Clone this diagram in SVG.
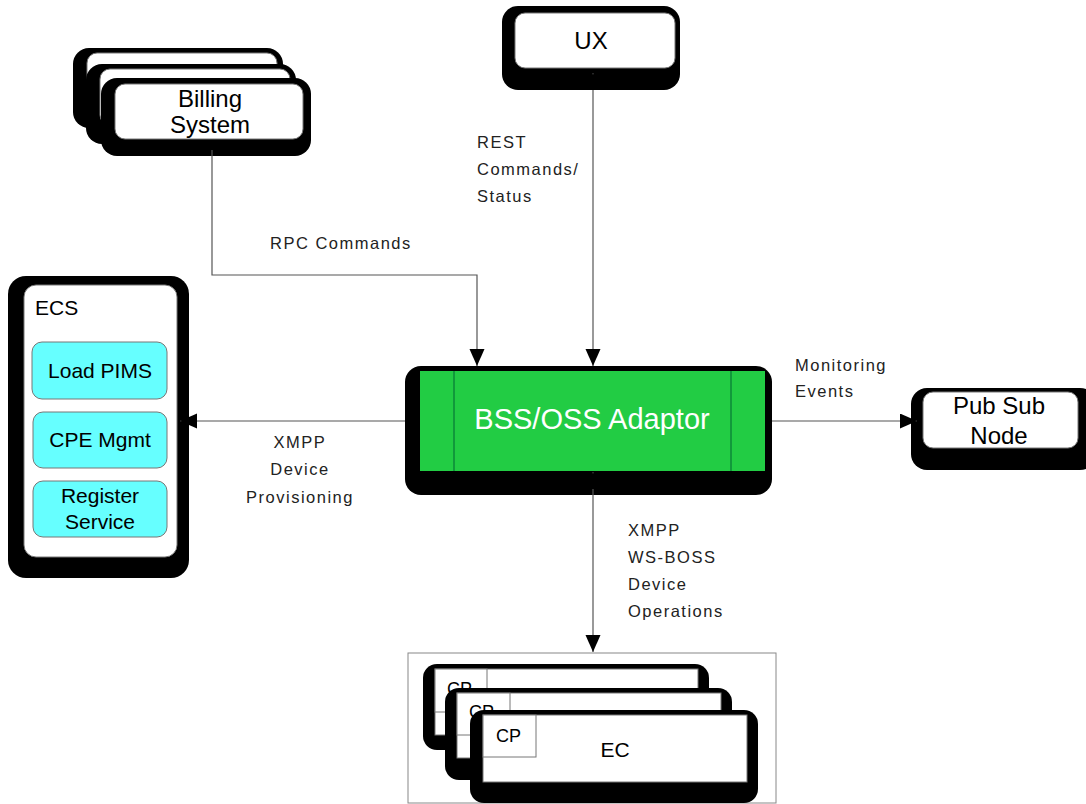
<svg xmlns="http://www.w3.org/2000/svg" width="1086" height="804" viewBox="0 0 1086 804">
<style>
  text { font-family: "Liberation Sans", Arial, sans-serif; fill: #000; }
  .sh { fill: #000; }
  .box { fill: #fff; stroke: #777; stroke-width: 1; }
  .cyan { fill: #66ffff; stroke: #777; stroke-width: 1; }
  .lbl { font-size: 16.5px; fill: #222; letter-spacing: 1.5px; }
  .big { font-size: 24px; text-anchor: middle; }
  .mid { font-size: 21px; text-anchor: middle; }
  .conn { fill: none; stroke: #555; stroke-width: 1.2; }
</style>
<defs>
  <marker id="ah" markerUnits="userSpaceOnUse" markerWidth="18" markerHeight="16" refX="17" refY="7.5" orient="auto-start-reverse">
    <path d="M0,0 L17,7.5 L0,15 z" fill="#000"/>
  </marker>
</defs>
<rect width="1086" height="804" fill="#fff"/>

<g id="billing">
  <rect class="sh" x="73" y="48" width="210" height="80" rx="16"/>
  <rect class="box" x="87" y="53" width="190" height="54" rx="10"/>
  <rect class="sh" x="86" y="64" width="210" height="80" rx="16"/>
  <rect class="box" x="100" y="69" width="190" height="56" rx="10"/>
  <rect class="sh" x="101" y="78" width="210" height="78" rx="16"/>
  <rect class="box" x="115" y="84" width="188" height="55" rx="10"/>
  <text class="big" x="210" y="107">Billing</text>
  <text class="big" x="210" y="133">System</text>
</g>

<g id="ux">
  <rect class="sh" x="502" y="6" width="178" height="84" rx="16"/>
  <rect class="box" x="515" y="13" width="160" height="55" rx="10"/>
  <text class="big" x="591" y="49">UX</text>
</g>

<g id="ecs">
  <rect class="sh" x="8" y="276" width="181" height="302" rx="18"/>
  <rect class="box" x="24" y="285" width="153" height="272" rx="12"/>
  <text x="35" y="315" font-size="21">ECS</text>
  <rect class="cyan" x="32" y="342" width="135" height="57" rx="10"/>
  <text class="mid" x="100" y="378">Load PIMS</text>
  <rect class="cyan" x="33" y="412" width="134" height="56" rx="10"/>
  <text class="mid" x="100" y="447">CPE Mgmt</text>
  <rect class="cyan" x="33" y="481" width="134" height="56" rx="10"/>
  <text class="mid" x="100" y="503">Register</text>
  <text class="mid" x="100" y="529">Service</text>
</g>

<g id="bss">
  <rect class="sh" x="405" y="366" width="367" height="129" rx="16"/>
  <rect x="420" y="371" width="345" height="100" fill="#22cc44"/>
  <line x1="454" y1="371" x2="454" y2="471" stroke="#063" stroke-width="1"/>
  <line x1="731" y1="371" x2="731" y2="471" stroke="#063" stroke-width="1"/>
  <text x="592" y="429" font-size="29" text-anchor="middle" style="fill:#fff">BSS/OSS Adaptor</text>
</g>

<g id="pubsub">
  <rect class="sh" x="911" y="388" width="185" height="82" rx="16"/>
  <rect class="box" x="923" y="392" width="155" height="56" rx="10"/>
  <text class="big" x="999" y="414">Pub Sub</text>
  <text class="big" x="999" y="444">Node</text>
</g>

<g id="ec">
  <rect x="408" y="653" width="368" height="150" fill="#fff" stroke="#888" stroke-width="1"/>
  <rect class="sh" x="423" y="664" width="286" height="86" rx="14"/>
  <rect class="box" x="435" y="669" width="263" height="66"/>
  <rect class="box" x="435" y="669" width="52" height="43"/>
  <text x="447" y="695" font-size="18">CP</text>
  <rect class="sh" x="445" y="688" width="287" height="92" rx="14"/>
  <rect class="box" x="457" y="693" width="264" height="65"/>
  <rect class="box" x="457" y="693" width="53" height="42"/>
  <text x="469" y="718" font-size="18">CP</text>
  <rect class="sh" x="470" y="710" width="288" height="93" rx="14"/>
  <rect class="box" x="483" y="715" width="264" height="67"/>
  <rect class="box" x="483" y="715" width="53" height="42"/>
  <text x="496" y="742" font-size="18">CP</text>
  <text x="615" y="757" font-size="21" text-anchor="middle">EC</text>
</g>

<g id="connectors">
  <polyline class="conn" points="212,150 212,275 477,275 477,366" marker-end="url(#ah)"/>
  <line class="conn" x1="593" y1="73" x2="593" y2="366" marker-start="url(#ah)" marker-end="url(#ah)"/>
  <line class="conn" x1="405" y1="421" x2="180" y2="421" marker-end="url(#ah)"/>
  <line class="conn" x1="772" y1="421" x2="917" y2="421" marker-end="url(#ah)"/>
  <line class="conn" x1="593" y1="472" x2="593" y2="652" marker-start="url(#ah)" marker-end="url(#ah)"/>
</g>

<g id="labels">
  <text class="lbl" x="270" y="249">RPC Commands</text>
  <text class="lbl" x="477" y="148">REST</text>
  <text class="lbl" x="477" y="175">Commands/</text>
  <text class="lbl" x="477" y="202">Status</text>
  <text class="lbl" x="300" y="448" text-anchor="middle">XMPP</text>
  <text class="lbl" x="300" y="475" text-anchor="middle">Device</text>
  <text class="lbl" x="300" y="503" text-anchor="middle">Provisioning</text>
  <text class="lbl" x="795" y="371">Monitoring</text>
  <text class="lbl" x="795" y="397">Events</text>
  <text class="lbl" x="628" y="536">XMPP</text>
  <text class="lbl" x="628" y="563">WS-BOSS</text>
  <text class="lbl" x="628" y="590">Device</text>
  <text class="lbl" x="628" y="617">Operations</text>
</g>
</svg>
